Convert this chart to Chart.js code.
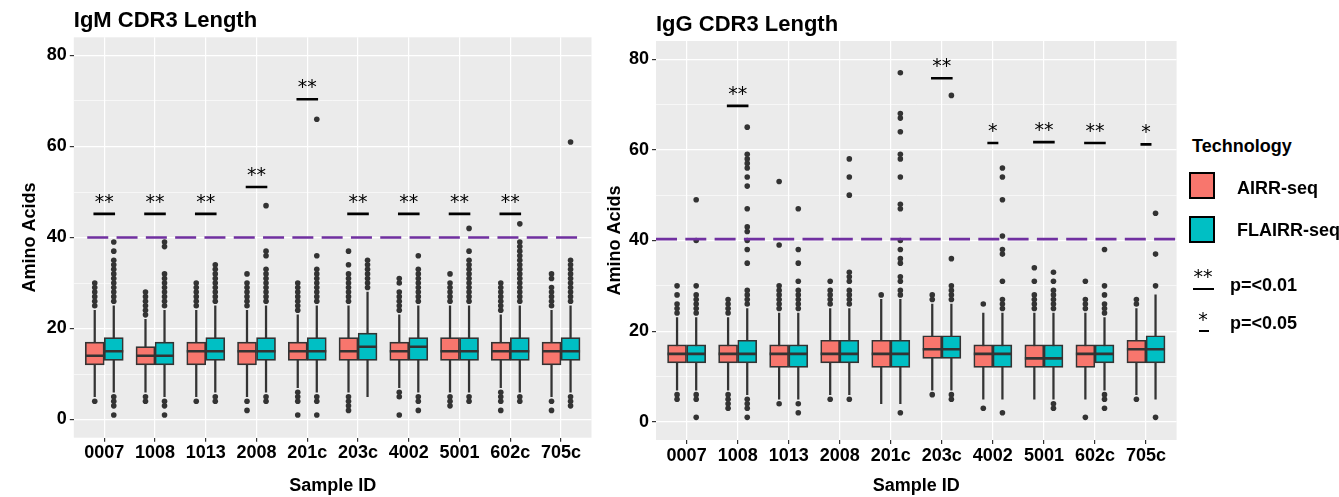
<!DOCTYPE html>
<html>
<head>
<meta charset="utf-8">
<script src="https://cdn.jsdelivr.net/npm/chart.js@4.4.0/dist/chart.umd.min.js"></script>
<style>
  body { margin: 0; width: 1339px; height: 497px; overflow: hidden; background: #fff; position: relative;
         font-family: 'Liberation Sans', Arial, sans-serif; }
  canvas { position: absolute; top: 0; }
  #igmChart { left: 0; }
  #iggChart { left: 595px; }
  .lg { position: absolute; font-weight: bold; font-size: 18px; color: #000; line-height: 20px; white-space: nowrap; }
  .key { position: absolute; width: 22px; height: 23px; border: 2px solid #000; }
  .star { position: absolute; font-family: 'DejaVu Sans'; font-size: 19px; line-height: 20px; color: #000; text-align: center; }
  .bar { position: absolute; height: 2.6px; background: #000; }
</style>
</head>
<body>
<canvas id="igmChart" width="610" height="497"></canvas>
<canvas id="iggChart" width="595" height="497"></canvas>

<div class="lg" style="left:1192px; top:136px;">Technology</div>
<div class="key" style="left:1189px; top:172px; background:#F8766D;"></div>
<div class="lg" style="left:1237px; top:178px;">AIRR-seq</div>
<div class="key" style="left:1189px; top:216px; background:#00BFC4;"></div>
<div class="lg" style="left:1237px; top:220px;">FLAIRR-seq</div>
<div class="star" style="left:1190px; top:266px; width:26px;">**</div>
<div class="bar" style="left:1193px; top:287.5px; width:20.5px;"></div>
<div class="lg" style="left:1230px; top:275px;">p=&lt;0.01</div>
<div class="star" style="left:1190px; top:309px; width:26px;">*</div>
<div class="bar" style="left:1199px; top:329.5px; width:10px;"></div>
<div class="lg" style="left:1230px; top:313px;">p=&lt;0.05</div>

<script>
const samples = ['0007', '1008', '1013', '2008', '201c', '203c', '4002', '5001', '602c', '705c'];

// [lower whisker, Q1, median, Q3, upper whisker]
const igmAirrStats = [
  [5, 12, 14, 17, 24], [6, 12, 14, 16, 22], [5, 12, 15, 17, 24], [5, 12, 15, 17, 24], [7, 13, 15, 17, 23],
  [6, 13, 15, 18, 25], [7, 13, 15, 17, 23], [6, 13, 15, 18, 25], [7, 13, 15, 17, 23], [5, 12, 15, 17, 24]
];
const igmFlairrStats = [
  [6, 13, 15, 18, 25], [5, 12, 14, 17, 24], [6, 13, 15, 18, 25], [6, 13, 15, 18, 25], [6, 13, 15, 18, 25],
  [5, 13, 16, 19, 28], [6, 13, 16, 18, 25], [6, 13, 15, 18, 25], [6, 13, 15, 18, 25], [6, 13, 15, 18, 25]
];
const igmAirrOutliers = [
  [4, 25, 26, 27, 28, 29, 30],
  [4, 5, 23, 24, 25, 26, 27, 28],
  [4, 25, 26, 27, 28, 29, 30],
  [2, 4, 25, 26, 27, 28, 29, 30, 32],
  [1, 4, 5, 6, 24, 25, 26, 27, 28, 29, 30],
  [2, 3, 4, 5, 26, 27, 28, 29, 30, 31, 32, 34, 37],
  [1, 5, 6, 24, 25, 26, 27, 28, 30, 31],
  [3, 4, 5, 26, 27, 28, 29, 30, 32],
  [2, 4, 5, 6, 24, 25, 26, 27, 28, 29, 30],
  [2, 4, 25, 26, 27, 28, 29, 31, 32]
];
const igmFlairrOutliers = [
  [1, 3, 4, 5, 26, 27, 28, 29, 30, 31, 32, 33, 34, 35, 37, 39],
  [1, 3, 4, 25, 26, 27, 28, 29, 30, 31, 32, 38, 39],
  [4, 5, 26, 27, 28, 29, 30, 31, 32, 33, 34],
  [4, 5, 26, 27, 28, 29, 30, 31, 32, 33, 36, 37, 47],
  [1, 4, 5, 26, 27, 28, 29, 30, 31, 32, 33, 36, 66],
  [29, 30, 31, 32, 33, 34, 35],
  [2, 4, 5, 26, 27, 28, 29, 30, 31, 32, 33, 36],
  [4, 5, 26, 27, 28, 29, 30, 31, 32, 33, 34, 35, 37, 42],
  [4, 5, 26, 27, 28, 29, 30, 31, 32, 33, 34, 35, 36, 37, 38, 39, 43],
  [3, 4, 5, 26, 27, 28, 29, 30, 31, 32, 33, 34, 35, 61]
];
const igmSigLabels = ['**', '**', '**', '**', '**', '**', '**', '**', '**', ''];
const igmSigY = [45.2, 45.2, 45.2, 51.1, 70.4, 45.2, 45.2, 45.2, 45.2, null];
const igmThreshold = 40;

const iggAirrStats = [
  [7, 13, 15, 17, 23], [7, 13, 15, 17, 23], [5, 12, 15, 17, 24], [6, 13, 15, 18, 25], [4, 12, 15, 18, 27],
  [7, 14, 16, 19, 26], [5, 12, 15, 17, 24], [5, 12, 14, 17, 24], [5, 12, 15, 17, 24], [6, 13, 16, 18, 25]
];
const iggFlairrStats = [
  [7, 13, 15, 17, 23], [6, 13, 15, 18, 25], [5, 12, 15, 17, 24], [6, 13, 15, 18, 25], [4, 12, 15, 18, 27],
  [7, 14, 16, 19, 26], [5, 12, 15, 17, 24], [5, 12, 14, 17, 24], [7, 13, 15, 17, 23], [5, 13, 16, 19, 28]
];
const iggAirrOutliers = [
  [5, 6, 24, 25, 26, 28, 30],
  [3, 4, 5, 6, 24, 25, 26, 27],
  [4, 25, 26, 27, 28, 29, 30, 39, 53],
  [5, 26, 27, 28, 29, 31],
  [28],
  [6, 27, 28],
  [3, 26],
  [25, 26, 27, 28, 31, 34],
  [1, 25, 26, 27, 31],
  [5, 26, 27]
];
const iggFlairrOutliers = [
  [1, 5, 6, 24, 25, 26, 27, 28, 30, 40, 49],
  [1, 3, 4, 5, 26, 27, 28, 29, 35, 38, 40, 42, 43, 47, 52, 54, 56, 57, 58, 59, 65],
  [2, 4, 25, 26, 27, 28, 29, 31, 35, 38, 47],
  [5, 26, 27, 28, 29, 31, 32, 33, 50, 54, 58],
  [2, 28, 29, 31, 32, 35, 36, 38, 40, 47, 48, 54, 58, 59, 64, 67, 68, 77],
  [5, 6, 27, 28, 29, 30, 36, 72],
  [2, 25, 26, 27, 31, 37, 38, 41, 49, 54, 56],
  [3, 4, 25, 26, 27, 28, 29, 31, 33],
  [3, 5, 6, 24, 25, 26, 28, 30, 38],
  [1, 30, 37, 46]
];
const iggSigLabels = ['', '**', '', '', '', '**', '*', '**', '**', '*'];
const iggSigY = [null, 69.7, null, null, null, 75.8, 61.5, 61.7, 61.5, 61.2];
const iggThreshold = 40.3;

const yTicks = [0, 10, 20, 30, 40, 50, 60, 70, 80];
const colAirr = '#F8766D';
const colFlairr = '#00BFC4';
const dark = '#333333';
const dodge = 0.1875;
const boldFont = { family: "'Liberation Sans', Arial, sans-serif", size: 18, weight: 'bold' };

const panelBg = {
    id: 'panelBg',
    beforeDraw(chart) {
        const { ctx, chartArea: a } = chart;
        ctx.save();
        ctx.fillStyle = '#EBEBEB';
        ctx.fillRect(a.left, a.top, a.right - a.left, a.bottom - a.top);
        ctx.restore();
    }
};

function sigTextPlugin(labels, ys) {
    return {
        id: 'sigText',
        afterDatasetsDraw(chart) {
            const { ctx, scales: { x, y } } = chart;
            ctx.save();
            ctx.font = "19px 'DejaVu Sans'";
            ctx.fillStyle = '#000';
            ctx.textAlign = 'center';
            ctx.textBaseline = 'middle';
            labels.forEach((lab, i) => {
                if (!lab) return;
                ctx.fillText(lab, x.getPixelForValue(i), y.getPixelForValue(ys[i]) - 11);
            });
            ctx.restore();
        }
    };
}

function boxDatasets(stats, outliers, shift, color) {
    const pts = [];
    outliers.forEach((list, i) => list.forEach(v => pts.push({ x: i + shift, y: v })));
    return [
        {   // whiskers
            type: 'bar', grouped: false, order: 6,
            data: stats.map((s, i) => ({ x: i + shift, y: [s[0], s[4]] })),
            backgroundColor: dark, barThickness: 1.6
        },
        {   // boxes
            type: 'bar', grouped: false, order: 5,
            data: stats.map((s, i) => ({ x: i + shift, y: [s[1], s[3]] })),
            backgroundColor: color, borderColor: dark, borderWidth: 1.7, borderSkipped: false, barThickness: 19
        },
        {   // medians
            type: 'scatter', order: 4,
            data: stats.map((s, i) => ({ x: i + shift, y: s[2] })),
            pointStyle: 'line', pointRadius: 9.5, borderWidth: 2.6, borderColor: dark
        },
        {   // outliers
            type: 'scatter', order: 3,
            data: pts,
            pointRadius: 2.8, backgroundColor: dark, borderWidth: 0
        }
    ];
}

function makePanel(id, title, airrStats, flairrStats, airrOut, flairrOut, sigLabels, sigY, threshold, lineX, lay) {
    const sigPts = [];
    const sigR = [];
    sigLabels.forEach((lab, i) => {
        if (!lab) return;
        sigPts.push({ x: i, y: sigY[i] });
        sigR.push(lab === '**' ? 10.8 : 5.5);
    });

    const datasets = [
        ...boxDatasets(airrStats, airrOut, -dodge, colAirr),
        ...boxDatasets(flairrStats, flairrOut, dodge, colFlairr),
        {
            type: 'line', order: 2,
            data: [{ x: lineX[0], y: threshold }, { x: lineX[1], y: threshold }],
            borderColor: '#7030A0', borderWidth: 2.7, borderDash: [21, 8.3], pointRadius: 0, fill: false
        },
        {
            type: 'scatter', order: 1,
            data: sigPts,
            pointStyle: 'line', pointRadius: sigR, borderWidth: 2.6, borderColor: '#000'
        }
    ];

    return new Chart(document.getElementById(id).getContext('2d'), {
        type: 'bar',
        data: { datasets: datasets },
        options: {
            responsive: false,
            animation: false,
            events: [],
            layout: { padding: { left: 0, right: lay.right, top: 0, bottom: 0 } },
            plugins: {
                legend: { display: false },
                tooltip: { enabled: false },
                title: {
                    display: true, text: title, align: 'start', fullSize: false, color: '#000',
                    font: { family: boldFont.family, size: 22, weight: 'bold' },
                    padding: { top: lay.titleTop, bottom: lay.titleBottom }
                }
            },
            scales: {
                x: {
                    type: 'linear', min: -0.6, max: 9.6, offset: false,
                    afterBuildTicks: (axis) => { axis.ticks = samples.map((s, i) => ({ value: i })); },
                    afterFit: (axis) => { axis.height = lay.xHeight; },
                    ticks: {
                        callback: (v) => samples[v], autoSkip: false, maxRotation: 0,
                        color: '#000', font: boldFont, padding: 1
                    },
                    grid: { color: '#FFFFFF', lineWidth: 1.2, tickColor: dark, tickLength: 4, offset: false },
                    border: { display: false },
                    title: { display: true, text: 'Sample ID', color: '#000', font: boldFont, padding: { top: 0, bottom: 0 } }
                },
                y: {
                    type: 'linear', min: -4, max: 84,
                    afterBuildTicks: (axis) => { axis.ticks = yTicks.map(v => ({ value: v })); },
                    afterFit: (axis) => { axis.width = lay.yWidth; },
                    ticks: {
                        callback: (v) => (v % 20 === 0 ? String(v) : ''),
                        color: '#000', font: boldFont, padding: 3
                    },
                    grid: {
                        color: '#FFFFFF',
                        lineWidth: (c) => (c.tick && c.tick.value % 20 === 0 ? 1.2 : 0.6),
                        tickColor: (c) => (c.tick && c.tick.value % 20 === 0 ? dark : 'rgba(0,0,0,0)'),
                        tickLength: 4
                    },
                    border: { display: false },
                    title: { display: true, text: 'Amino Acids', color: '#000', font: boldFont, padding: { top: lay.yTitlePad, bottom: 0 } }
                }
            }
        },
        plugins: [panelBg, sigTextPlugin(sigLabels, sigY)]
    });
}

makePanel('igmChart', 'IgM CDR3 Length', igmAirrStats, igmFlairrStats, igmAirrOutliers, igmFlairrOutliers,
    igmSigLabels, igmSigY, igmThreshold, [-0.335, 9.35],
    { right: 18.5, titleTop: 8, titleBottom: 2.9, xHeight: 59.3, yWidth: 73.8, yTitlePad: 19 });

makePanel('iggChart', 'IgG CDR3 Length', iggAirrStats, iggFlairrStats, iggAirrOutliers, iggFlairrOutliers,
    iggSigLabels, iggSigY, iggThreshold, [-0.6, 9.6],
    { right: 13, titleTop: 11.8, titleBottom: 2.8, xHeight: 57, yWidth: 61, yTitlePad: 9.5 });
</script>
</body>
</html>
